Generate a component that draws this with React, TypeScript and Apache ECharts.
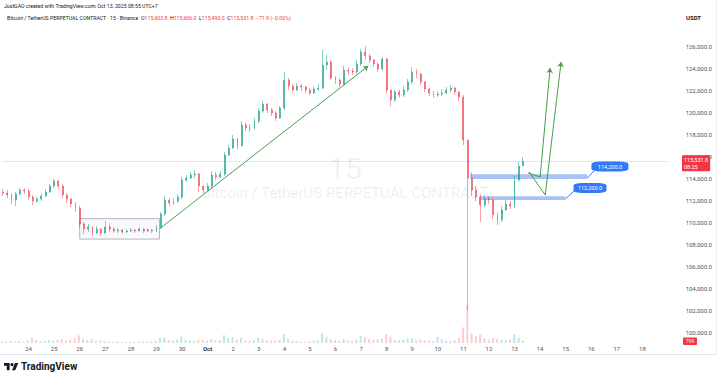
import React, { useEffect, useRef } from 'react';
import * as echarts from 'echarts';

// Time unit: days from Sep 24 00:00 (UTC+7). One candle = 4 hours.
const START_T = -1;
const CANDLE_STEP = 1 / 6;
const FIRST_OPEN = 112727;

const closes = [
  112636, 112455, 112000, 112545, 112909, 112818, // Sep 23
  112273, 111909, 112091, 112364, 112727, 113273, // Sep 24
  113727, 113273, 112455, 112091, 111636, 111273, // Sep 25
  109818, 109364, 109545, 109000, 109364, 109000, // Sep 26
  109545, 109364, 109182, 109273, 109091, 109182, // Sep 27
  109273, 109182, 109364, 109182, 109273, 109182, // Sep 28
  109455, 110727, 112000, 111727, 111909, 112273, // Sep 29
  113818, 114000, 114273, 114364, 113273, 112909, // Sep 30
  113273, 114273, 114091, 114364, 116091, 116727, // Oct 1
  117545, 116909, 118818, 118545, 118545, 119182, // Oct 2
  120091, 120727, 120182, 119909, 119455, 120364, // Oct 3
  122909, 122364, 122000, 122364, 122273, 122000, // Oct 4
  121727, 122091, 122182, 124273, 124545, 123091, // Oct 5
  122909, 122545, 123818, 123727, 123636, 124364, // Oct 6
  125455, 125091, 124727, 124364, 123909, 124818, // Oct 7
  122000, 121091, 121818, 121545, 122000, 122727, // Oct 8
  123636, 123455, 122727, 122091, 121727, 121545, // Oct 9
  121636, 121727, 122000, 122182, 121818, 121364, // Oct 10
  117455, 114000, 112909, 112273, 111545, 112091, // Oct 11
  112000, 110636, 110182, 111091, 111636, 111455, // Oct 12
  113818, 115091, 115531.8, // Oct 13
];

const highs = [
  113000, 112909, 112636, 112727, 113091, 113091,
  113000, 112455, 112364, 112636, 113000, 113455,
  113909, 113818, 113455, 112636, 112182, 111818,
  111455, 110000, 109818, 109636, 109636, 109455,
  110091, 109909, 109545, 109455, 109364, 109364,
  109455, 109364, 109545, 109455, 109455, 109364,
  109727, 110909, 112364, 112182, 112182, 112545,
  114091, 114273, 114545, 114727, 114450, 113273,
  113545, 114636, 114545, 114636, 116364, 117000,
  117909, 117636, 119182, 119000, 118909, 119455,
  120364, 121000, 120818, 120364, 120091, 120545,
  123636, 123091, 122545, 122636, 122545, 122364,
  122182, 122364, 122545, 125636, 125182, 124727,
  123273, 123091, 124182, 124091, 124000, 124727,
  125727, 126000, 125273, 124818, 124455, 125000,
  124909, 122000, 122000, 122000, 122364, 123000,
  124091, 123909, 123545, 122818, 122182, 121909,
  121909, 122091, 122273, 122455, 122273, 121909,
  121545, 117455, 114545, 113273, 112545, 112364,
  112364, 112182, 110909, 111455, 112000, 111909,
  114182, 115455, 115909,
];

const lows = [
  112364, 112182, 111636, 111455, 112455, 112545,
  112000, 111545, 111727, 111909, 112273, 112636,
  113091, 113000, 112182, 111727, 111364, 110909,
  109455, 108909, 109091, 108727, 108909, 108727,
  108909, 109091, 109000, 109000, 108909, 109000,
  109091, 109000, 109182, 109000, 109091, 109000,
  109091, 109364, 110545, 111455, 111545, 111727,
  112091, 113636, 113909, 114000, 112727, 112636,
  112818, 113091, 113818, 114000, 114182, 116000,
  116636, 116636, 116909, 118273, 118182, 118364,
  119000, 119909, 119909, 119636, 119182, 119364,
  120182, 122000, 121727, 121909, 121909, 121727,
  121545, 121636, 121909, 122091, 123818, 122909,
  122545, 122273, 122455, 123364, 123364, 123455,
  124182, 124727, 124455, 124091, 123636, 123818,
  121727, 120545, 120909, 121273, 121364, 121818,
  122545, 123091, 122455, 121818, 121455, 121273,
  121364, 121455, 121636, 121818, 121545, 121000,
  117000, 102000, 112364, 111909, 110000, 111364,
  111636, 110273, 109727, 110000, 111273, 111182,
  111273, 113636, 115091,
];

const volumes = [
  8, 6, 10, 7, 9, 6,
  12, 25, 14, 9, 10, 12,
  10, 14, 18, 12, 15, 22,
  35, 20, 14, 18, 10, 12,
  8, 6, 5, 6, 5, 5,
  5, 4, 5, 6, 5, 7,
  10, 22, 25, 14, 12, 16,
  30, 14, 12, 10, 16, 14,
  10, 18, 12, 14, 35, 22,
  28, 16, 25, 12, 10, 14,
  26, 20, 12, 10, 12, 14,
  40, 18, 10, 8, 6, 7,
  8, 10, 12, 45, 25, 18,
  12, 10, 18, 12, 10, 16,
  32, 28, 18, 14, 16, 20,
  40, 28, 14, 12, 15, 20,
  22, 14, 16, 12, 10, 8,
  28, 18, 10, 8, 12, 22,
  70, 170, 45, 30, 38, 20,
  16, 22, 18, 14, 12, 16,
  40, 24, 10,
];

const xTickLabels = [
  '', '24', '25', '26', '27', '28', '29', '30', 'Oct', '2', '3', '4', '5', '6',
  '7', '8', '9', '10', '11', '12', '13', '14', '15', '16', '17', '18', '',
];

const LAST_PRICE = 115531.8;
const rangeBox = [[2.0, 108450], [5.12, 110300]];
const zones = [
  { from: 17.27, to: 21.84, low: 113900, high: 114350 },
  { from: 17.66, to: 20.98, low: 112000, high: 112350 },
];
const zoneLabels = [
  { t: 22.73, p: 115045, text: '114,200.0', w: 37 },
  { t: 21.95, p: 113090, text: '112,200.0', w: 33 },
];
const zoneTails = [
  [[21.84, 114000], [22.11, 114636]],
  [[20.98, 112091], [21.33, 112818]],
];
const trendLines = [
  [[5.16, 109455], [13.28, 124180]],
  [[19.53, 114455], [20.0, 114091], [20.39, 124000]],
  [[19.57, 114545], [20.2, 112455], [20.82, 124545]],
];

const UP = 'rgba(8,153,129,0.8)';
const DOWN_SOLID = '#f23645';
const DOWN = 'rgba(242,54,69,0.8)';
const FONT = 'Roboto';
const TV_LOGO_PATH = 'M14 22H7V11H0V4h14v18zM28 22h-8l7.5-18h8L28 22z';

export default function App() {
  const ref = useRef<HTMLDivElement>(null);

  useEffect(() => {
    if (!ref.current) return;
    echarts.graphic.registerShape('tvlogo', echarts.graphic.extendPath(TV_LOGO_PATH, {}));
    const chart = echarts.init(ref.current, null, { renderer: 'svg' });

    const candles = closes.map((c, k) => {
      const t = START_T + k * CANDLE_STEP;
      const o = k === 0 ? FIRST_OPEN : closes[k - 1];
      return [t, o, c, lows[k], highs[k]];
    });
    const vols = volumes.map((v, k) => {
      const t = START_T + k * CANDLE_STEP;
      const o = k === 0 ? FIRST_OPEN : closes[k - 1];
      const up = closes[k] >= o;
      return { value: [t, v], itemStyle: { color: up ? 'rgba(8,153,129,0.25)' : 'rgba(242,54,69,0.25)' } };
    });

    const markLines: any[] = [
      {
        yAxis: LAST_PRICE,
        symbol: 'none',
        lineStyle: { color: 'rgba(242,54,69,0.35)', type: 'dotted', width: 1 },
        label: {
          show: true, position: 'end', distance: 14, offset: [0, 2],
          formatter: '115,531.8\n08:25',
          backgroundColor: DOWN_SOLID, color: '#ffffff', fontSize: 5.5, lineHeight: 7,
          padding: [1, 2, 1, 2], borderRadius: 1, fontFamily: FONT, align: 'left', opacity: 1,
        },
      },
    ];
    trendLines.forEach((pts) => {
      for (let i = 0; i < pts.length - 1; i++) {
        const last = i === pts.length - 2;
        markLines.push([
          { coord: pts[i], symbol: 'none', lineStyle: { color: '#43a047', width: 1, type: 'solid' } },
          { coord: pts[i + 1], symbol: last ? 'arrow' : 'none' },
        ]);
      }
    });
    zoneTails.forEach((pts) => {
      markLines.push([
        { coord: pts[0], symbol: 'none', lineStyle: { color: '#3179f5', width: 1, type: 'solid' } },
        { coord: pts[1], symbol: 'none' },
      ]);
    });

    const markAreas: any[] = [
      [
        { coord: rangeBox[0], itemStyle: { color: 'rgba(120,140,180,0.04)', borderColor: '#aab6ca', borderWidth: 1 } },
        { coord: rangeBox[1] },
      ],
      ...zones.map((z) => [
        { coord: [z.from, z.low], itemStyle: { color: 'rgba(66,117,235,0.45)' } },
        { coord: [z.to, z.high] },
      ]),
    ];

    const option: any = {
      animation: false,
      backgroundColor: '#ffffff',
      textStyle: { fontFamily: FONT },
      grid: [
        { left: 2, right: 52, top: 2, bottom: 26 },
        { left: 2, right: 52, top: 290, bottom: 37 },
      ],
      xAxis: [
        {
          type: 'value', gridIndex: 0, min: -1, max: 25, interval: 1,
          axisLine: { show: false }, axisTick: { show: false }, splitLine: { show: false },
          axisLabel: {
            margin: -9, fontSize: 6, color: '#50535e', fontFamily: FONT,
            formatter: (v: number) => {
              const s = xTickLabels[Math.round(v) + 1] ?? '';
              return s === 'Oct' ? '{b|Oct}' : s;
            },
            rich: { b: { fontWeight: 'bold', fontSize: 6, color: '#2a2e39', fontFamily: FONT } },
          },
        },
        {
          type: 'value', gridIndex: 1, min: -1, max: 25, interval: 1, show: false,
        },
      ],
      yAxis: [
        {
          type: 'value', gridIndex: 0, position: 'right', min: 98000, max: 130000, interval: 2000,
          axisLine: { show: false }, axisTick: { show: false }, splitLine: { show: false },
          axisLabel: {
            align: 'right', margin: 44, fontSize: 6, color: '#50535e', fontFamily: FONT,
            formatter: (v: number) =>
              v < 100000 || v > 126000
                ? ''
                : v.toLocaleString('en-US', { minimumFractionDigits: 1, maximumFractionDigits: 1 }),
          },
        },
        { type: 'value', gridIndex: 1, min: 0, max: 240, show: false },
      ],
      graphic: [
        {
          type: 'text', x: 345, y: 168, z: 0,
          style: { text: '15', fontSize: 30, fill: 'rgba(106,109,120,0.09)', align: 'center', verticalAlign: 'middle', fontFamily: FONT },
        },
        {
          type: 'text', x: 345, y: 193, z: 0,
          style: { text: 'Bitcoin / TetherUS PERPETUAL CONTRACT', fontSize: 15, fill: 'rgba(106,109,120,0.12)', align: 'center', verticalAlign: 'middle', fontFamily: FONT },
        },
        {
          type: 'text', x: 4, y: 6,
          style: { text: 'JustGAO created with TradingView.com, Oct 13, 2025 08:55 UTC+7', fontSize: 5.2, fill: '#131722', verticalAlign: 'middle', fontFamily: FONT },
        },
        {
          type: 'text', x: 7, y: 18,
          style: {
            text: '{d|Bitcoin / TetherUS PERPETUAL CONTRACT · 15 · Binance}  {d|O}{r|115,603.8}  {d|H}{r|115,606.0}  {d|L}{r|115,490.0}  {d|C}{r|115,531.8}  {r|−71.9 (−0.06%)}',
            verticalAlign: 'middle', fontSize: 5.2, fontFamily: FONT,
            rich: {
              d: { fill: '#131722', fontSize: 5.2, fontFamily: FONT },
              r: { fill: DOWN_SOLID, fontSize: 5.2, fontFamily: FONT },
            },
          },
        },
        {
          type: 'text', x: 686, y: 17,
          style: { text: 'USDT', fontSize: 6, fontWeight: 'bold', fill: '#131722', verticalAlign: 'middle', fontFamily: FONT },
        },
        { type: 'rect', shape: { x: 683, y: 337.5, width: 14, height: 7.5, r: 1 }, style: { fill: DOWN_SOLID } },
        {
          type: 'text', x: 690, y: 341.3,
          style: { text: '799', fontSize: 5, fill: '#fff', align: 'center', verticalAlign: 'middle', fontFamily: FONT },
        },
        { type: 'line', shape: { x1: 0, y1: 354.5, x2: 716, y2: 354.5 }, style: { stroke: '#e0e3eb', lineWidth: 1 } },
        { type: 'line', shape: { x1: 716.5, y1: 0, x2: 716.5, y2: 355 }, style: { stroke: '#eceef2', lineWidth: 1 } },
        { type: 'tvlogo', x: 4, y: 361.4, scaleX: 0.4, scaleY: 0.4, style: { fill: '#131722' } },
        { type: 'circle', shape: { cx: 12, cy: 364.6, r: 1.6 }, style: { fill: '#131722' } },
        {
          type: 'text', x: 21, y: 366.5,
          style: { text: 'TradingView', fontSize: 10, fontWeight: 'bold', fill: '#131722', verticalAlign: 'middle', fontFamily: FONT },
        },
      ],
      series: [
        {
          type: 'candlestick',
          xAxisIndex: 0, yAxisIndex: 0,
          data: candles,
          encode: { x: 0, y: [1, 2, 3, 4] },
          barWidth: 1.4,
          z: 3,
          itemStyle: { color: UP, color0: DOWN, borderColor: UP, borderColor0: DOWN, borderWidth: 0.6 },
          markArea: { silent: true, data: markAreas },
          markLine: {
            silent: true, symbol: ['none', 'none'], symbolSize: 5, animation: false,
            label: { show: false }, data: markLines,
          },
          markPoint: {
            silent: true, animation: false,
            data: zoneLabels.map((l) => ({
              coord: [l.t, l.p], symbol: 'roundRect', symbolSize: [l.w, 10],
              itemStyle: { color: '#3179f5' },
              label: { show: true, position: 'inside', formatter: l.text, color: '#fff', fontSize: 5.5, fontFamily: FONT },
            })),
          },
        },
        {
          type: 'bar',
          xAxisIndex: 1, yAxisIndex: 1,
          data: vols,
          barWidth: 2,
          z: 2,
        },
      ],
    };

    chart.setOption(option);
    return () => chart.dispose();
  }, []);

  return (
    <div
      ref={ref}
      style={{ position: 'fixed', left: 0, top: 0, width: 720, height: 380, background: '#fff' }}
    />
  );
}
